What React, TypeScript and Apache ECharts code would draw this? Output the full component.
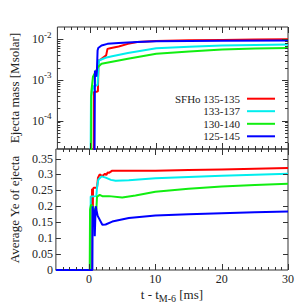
import React, { useEffect, useRef } from 'react';
import * as echarts from 'echarts';

const FONT = '"Liberation Serif", "Times New Roman", serif';

const seriesNames = ['SFHo 135-135', '133-137', '130-140', '125-145'];
const seriesColors = ['#ff0000', '#00eeee', '#11ee11', '#0000ff'];

// Ejecta mass [Msolar] vs t - t_M-6 [ms]
const massT135 = [0.5, 0.55, 1.0, 1.15, 1.25, 1.7, 2.4, 2.6, 3.0, 4.3, 5.7, 7.1, 10, 15, 20, 25, 30];
const massV135 = [1e-6, 5.1e-4, 5.1e-4, 5.3e-4, 3.0e-3, 3.3e-3, 4.0e-3, 5.8e-3, 6.0e-3, 6.6e-3, 7.7e-3, 8.6e-3, 9.1e-3, 9.4e-3, 9.6e-3, 9.8e-3, 1.0e-2];
const massT133 = [0.0, 0.1, 0.5, 1.1, 1.2, 1.3, 2.3, 3.3, 5.7, 10, 15, 20, 25, 30];
const massV133 = [1e-6, 4e-4, 7e-4, 7.5e-4, 1.5e-3, 3.0e-3, 3.5e-3, 3.8e-3, 4.6e-3, 6.0e-3, 6.5e-3, 7.0e-3, 7.2e-3, 7.4e-3];
const massT130 = [0.1, 0.15, 0.4, 0.8, 1.2, 1.7, 3.3, 5.7, 10, 15, 20, 25, 30];
const massV130 = [1e-6, 5e-4, 1.2e-3, 1.6e-3, 2.1e-3, 2.5e-3, 2.8e-3, 3.3e-3, 4.4e-3, 5.0e-3, 5.6e-3, 5.9e-3, 6.1e-3];
const massT125 = [0.6, 0.7, 0.9, 1.0, 1.1, 1.2, 1.7, 2.6, 4.3, 7.1, 10, 15, 20, 30];
const massV125 = [1e-6, 1.7e-3, 1.2e-3, 1.7e-3, 5.3e-3, 6.1e-3, 7.0e-3, 7.7e-3, 8.1e-3, 8.6e-3, 8.9e-3, 9.1e-3, 9.2e-3, 9.3e-3];

// Average Ye of ejecta
const yeT135 = [-5, 0.4, 0.45, 0.55, 0.6, 0.7, 1.2, 1.35, 1.6, 2.0, 2.4, 2.6, 2.8, 3.0, 3.5, 5, 10, 15, 20, 25, 30];
const yeV135 = [0, 0, 0.255, 0.14, 0.255, 0.258, 0.258, 0.29, 0.30, 0.295, 0.302, 0.298, 0.306, 0.305, 0.312, 0.312, 0.312, 0.314, 0.316, 0.318, 0.32];
const yeT133 = [-5, 0.2, 0.25, 1.1, 1.2, 1.4, 1.9, 2.5, 3.3, 4, 6, 10, 15, 20, 25, 30];
const yeV133 = [0, 0, 0.231, 0.232, 0.26, 0.284, 0.294, 0.29, 0.283, 0.28, 0.282, 0.288, 0.292, 0.296, 0.299, 0.302];
const yeT130 = [-5, 0.1, 0.15, 0.3, 0.5, 0.8, 1.1, 1.2, 1.6, 2.0, 3, 5, 7, 10, 15, 20, 25, 30];
const yeV130 = [0, 0, 0.19, 0.205, 0.2, 0.19, 0.19, 0.23, 0.236, 0.232, 0.232, 0.228, 0.234, 0.246, 0.255, 0.262, 0.267, 0.271];
const yeT125 = [-5, 0.5, 0.55, 0.65, 0.8, 0.86, 1.0, 1.3, 2.0, 2.5, 3.5, 6, 10, 15, 20, 25, 30];
const yeV125 = [0, 0, 0.2, 0.15, 0.19, 0.106, 0.2, 0.17, 0.142, 0.143, 0.152, 0.163, 0.171, 0.175, 0.178, 0.181, 0.184];

const massT = [massT135, massT133, massT130, massT125];
const massV = [massV135, massV133, massV130, massV125];
const yeT = [yeT135, yeT133, yeT130, yeT125];
const yeV = [yeV135, yeV133, yeV130, yeV125];

// axes
const X_MIN = -5;
const X_MAX = 30;
const xMajorTicks = [0, 10, 20, 30];
const xMinorTicks = [-4, -3, -2, -1, 1, 2, 3, 4, 5, 6, 7, 8, 9, 11, 12, 13, 14, 15, 16, 17, 18, 19, 21, 22, 23, 24, 25, 26, 27, 28, 29];
const MASS_MIN = 2e-5;
const MASS_MAX = 0.02;
const massMajorTicks = [1e-4, 1e-3, 1e-2];
const massMinorTicks = [
  3e-5, 4e-5, 5e-5, 6e-5, 7e-5, 8e-5, 9e-5,
  2e-4, 3e-4, 4e-4, 5e-4, 6e-4, 7e-4, 8e-4, 9e-4,
  2e-3, 3e-3, 4e-3, 5e-3, 6e-3, 7e-3, 8e-3, 9e-3,
];
const YE_MIN = 0;
const YE_MAX = 0.38;
const yeTicks = [0.05, 0.1, 0.15, 0.2, 0.25, 0.3, 0.35];

const legendCenters = [98.7, 111.2, 123.8, 136.3];

const FRAME = '#333';

type Tick = { axis: 'x' | 'y'; v: number; len: number };

function tickSeries(gridIdx: number, items: Tick[], xRef: number, yRef: number) {
  return {
    type: 'custom',
    xAxisIndex: gridIdx,
    yAxisIndex: gridIdx,
    silent: true,
    z: 10,
    data: items.map((it) => (it.axis === 'x' ? [it.v, yRef] : [xRef, it.v])),
    renderItem: (params: any, api: any) => {
      const it = items[params.dataIndex];
      const cs = params.coordSys;
      const style = { stroke: FRAME, lineWidth: 1 };
      if (it.axis === 'x') {
        const p = api.coord([it.v, yRef]);
        const x = Math.round(p[0]) + 0.5;
        const yb = cs.y + cs.height;
        return {
          type: 'group',
          children: [
            { type: 'line', shape: { x1: x, y1: yb, x2: x, y2: yb - it.len }, style },
            { type: 'line', shape: { x1: x, y1: cs.y, x2: x, y2: cs.y + it.len }, style },
          ],
        };
      }
      const p = api.coord([xRef, it.v]);
      const y = Math.round(p[1]) + 0.5;
      const xr = cs.x + cs.width;
      return {
        type: 'group',
        children: [
          { type: 'line', shape: { x1: cs.x, y1: y, x2: cs.x + it.len, y2: y }, style },
          { type: 'line', shape: { x1: xr, y1: y, x2: xr - it.len, y2: y }, style },
        ],
      };
    },
  };
}

export default function App() {
  const ref = useRef<HTMLDivElement>(null);
  useEffect(() => {
    if (!ref.current) return;
    const chart = echarts.init(ref.current, null, { renderer: 'svg' });

    const xTicks: Tick[] = [
      ...xMajorTicks.map((v) => ({ axis: 'x' as const, v, len: 6 })),
      ...xMinorTicks.map((v) => ({ axis: 'x' as const, v, len: 3 })),
    ];
    const topTicks: Tick[] = [
      ...xTicks,
      ...massMajorTicks.map((v) => ({ axis: 'y' as const, v, len: 6 })),
      ...massMinorTicks.map((v) => ({ axis: 'y' as const, v, len: 3 })),
    ];
    const botTicks: Tick[] = [
      ...xTicks,
      ...yeTicks.map((v) => ({ axis: 'y' as const, v, len: 5 })),
    ];

    const labelStyle = { fontFamily: FONT, fontSize: 12, color: '#222' };
    const nameStyle = { fontFamily: FONT, fontSize: 13, color: '#222' };

    const series: any[] = [];
    seriesNames.forEach((name, i) => {
      series.push({
        type: 'line',
        name,
        xAxisIndex: 0,
        yAxisIndex: 0,
        data: massT[i].map((t, k) => [t, massV[i][k]]),
        symbol: 'none',
        lineStyle: { width: 2, color: seriesColors[i] },
        itemStyle: { color: seriesColors[i] },
        z: 2 + i,
      });
    });
    seriesNames.forEach((name, i) => {
      series.push({
        type: 'line',
        name,
        xAxisIndex: 1,
        yAxisIndex: 1,
        data: yeT[i].map((t, k) => [t, yeV[i][k]]),
        symbol: 'none',
        lineStyle: { width: 2, color: seriesColors[i] },
        itemStyle: { color: seriesColors[i] },
        z: 2 + i,
      });
    });
    series.push(tickSeries(0, topTicks, X_MIN, MASS_MIN));
    series.push(tickSeries(1, botTicks, X_MIN, YE_MIN));

    const option: any = {
      animation: false,
      backgroundColor: '#fff',
      grid: [
        { left: 45, top: 27, width: 243, height: 122, show: true, borderColor: FRAME, borderWidth: 1 },
        { left: 45, top: 149, width: 243, height: 121, show: true, borderColor: FRAME, borderWidth: 1 },
      ],
      xAxis: [
        {
          gridIndex: 0, type: 'value', min: X_MIN, max: X_MAX, interval: 5,
          axisLine: { show: false }, axisTick: { show: false }, splitLine: { show: false },
          axisLabel: { show: false },
        },
        {
          gridIndex: 1, type: 'value', min: X_MIN, max: X_MAX, interval: 5,
          axisLine: { show: false }, axisTick: { show: false }, splitLine: { show: false },
          axisLabel: {
            ...labelStyle, margin: 3,
            formatter: (v: number) => (Math.abs(v % 10) < 1e-9 ? String(v) : ''),
          },
          name: '{n|t - t}{sub|M-6}{n| [ms]}',
          nameLocation: 'middle',
          nameGap: 15,
          nameTextStyle: {
            ...nameStyle,
            rich: {
              n: { fontFamily: FONT, fontSize: 13, color: '#222', lineHeight: 18 },
              sub: { fontFamily: FONT, fontSize: 10, color: '#222', verticalAlign: 'bottom', lineHeight: 10 },
            },
          },
        },
      ],
      yAxis: [
        {
          gridIndex: 0, type: 'log', logBase: 10, min: MASS_MIN, max: MASS_MAX,
          axisLine: { show: false }, axisTick: { show: false }, splitLine: { show: false },
          minorTick: { show: false }, minorSplitLine: { show: false },
          axisLabel: {
            ...labelStyle, margin: 6,
            formatter: (v: number) => {
              const e = Math.log10(v);
              if (Math.abs(e - Math.round(e)) > 1e-6) return '';
              return `{b|10}{s|${Math.round(e)}}`;
            },
            rich: {
              b: { fontFamily: FONT, fontSize: 12, color: '#222', lineHeight: 18 },
              s: { fontFamily: FONT, fontSize: 9, color: '#222', verticalAlign: 'top', lineHeight: 10 },
            },
          },
          name: 'Ejecta mass [Msolar]',
          nameLocation: 'middle',
          nameGap: 30,
          nameTextStyle: nameStyle,
        },
        {
          gridIndex: 1, type: 'value', min: YE_MIN, max: YE_MAX, interval: 0.05,
          axisLine: { show: false }, axisTick: { show: false }, splitLine: { show: false },
          axisLabel: {
            ...labelStyle, margin: 3,
            formatter: (v: number) => {
              const r = v / 0.05;
              if (Math.abs(r - Math.round(r)) > 1e-6) return '';
              return String(parseFloat(v.toFixed(2)));
            },
          },
          name: 'Average Ye of ejecta',
          nameLocation: 'middle',
          nameGap: 30,
          nameTextStyle: nameStyle,
        },
      ],
      legend: seriesNames.map((n, i) => ({
        data: [n],
        right: 29,
        top: legendCenters[i] - 7,
        orient: 'vertical',
        align: 'right',
        icon: 'rect',
        itemWidth: 28,
        itemHeight: 2,
        padding: 0,
        selectedMode: false,
        textStyle: { fontFamily: FONT, fontSize: 11, color: '#222', padding: [0, 2, 0, 0], lineHeight: 14 },
      })),
      series,
    };
    chart.setOption(option);
    return () => chart.dispose();
  }, []);
  return (
    <div
      ref={ref}
      style={{ position: 'fixed', left: 0, top: 0, width: 304, height: 304, background: '#fff' }}
    />
  );
}
